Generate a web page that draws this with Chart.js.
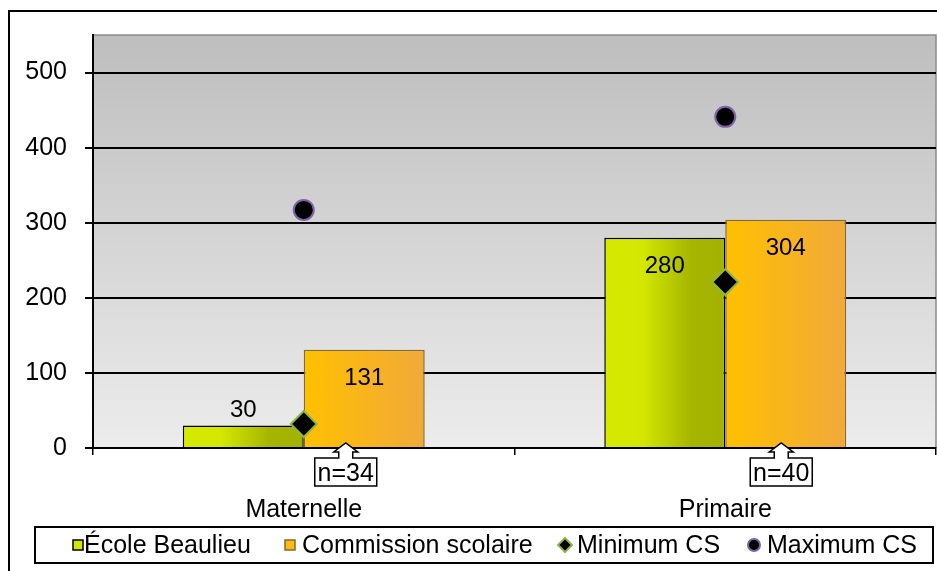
<!DOCTYPE html>
<html><head><meta charset="utf-8">
<script src="https://cdn.jsdelivr.net/npm/chart.js@4.4.1/dist/chart.umd.min.js"></script>
<style>html,body{margin:0;padding:0;background:#fff}</style>
</head><body>
<canvas id="c" width="937" height="571"></canvas>
<script>
// ---- data ----
const categories = ['Maternelle', 'Primaire'];
const ecoleBeaulieu = [30, 280];
const commissionScolaire = [131, 304];
const minimumCS = [32, 221];
const maximumCS = [317, 441];
const sampleSizes = ['n=34', 'n=40'];
const seriesLabels = ['École Beaulieu', 'Commission scolaire', 'Minimum CS', 'Maximum CS'];
const yMax = 550;
const yStep = 100;

// ---- style / layout ----
const FONT = "'Liberation Sans', Arial, sans-serif";
const CAT_PCT = 0.574;
const calloutOffsets = [42, 56];

Chart.defaults.font.family = FONT;
Chart.defaults.color = '#000';

function gradFill(stops, leftSide) {
  return (ctx) => {
    const chart = ctx.chart;
    if (!chart.chartArea || !chart.scales.x) return stops[0][1];
    const xs = chart.scales.x;
    const c = xs.getPixelForValue(ctx.dataIndex);
    const w = xs.width / categories.length * CAT_PCT / 2;
    const l = leftSide ? c - w : c;
    const g = chart.ctx.createLinearGradient(l, 0, l + w, 0);
    stops.forEach(s => g.addColorStop(s[0], s[1]));
    return g;
  };
}
const ecoleStops = [[0, '#d6ea00'], [0.32, '#d3e700'], [0.72, '#a5b500'], [1, '#a2b200']];
const csStops = [[0, '#ffc000'], [1, '#f1a93b']];

const bgPlugin = {
  id: 'bg',
  beforeDraw(chart) {
    const { ctx, chartArea: a } = chart;
    ctx.save();
    ctx.fillStyle = '#fff';
    ctx.fillRect(0, 0, chart.width, chart.height);
    ctx.strokeStyle = '#000'; ctx.lineWidth = 2;
    ctx.beginPath();
    ctx.moveTo(9, chart.height + 2); ctx.lineTo(9, 11); ctx.lineTo(chart.width + 2, 11);
    ctx.stroke();
    const g = ctx.createLinearGradient(0, a.top, 0, a.bottom);
    g.addColorStop(0, '#bebebe');
    g.addColorStop(1, '#ececec');
    ctx.fillStyle = g;
    ctx.fillRect(a.left, a.top, a.right - a.left, a.bottom - a.top);
    ctx.strokeStyle = '#8a8a8a'; ctx.lineWidth = 1.5;
    ctx.beginPath();
    ctx.moveTo(a.left, a.top); ctx.lineTo(a.right, a.top); ctx.lineTo(a.right, a.bottom);
    ctx.stroke();
    ctx.restore();
  }
};

const labelPlugin = {
  id: 'barLabels',
  afterDatasetsDraw(chart) {
    const ctx = chart.ctx;
    ctx.save();
    ctx.font = '24px ' + FONT;
    ctx.fillStyle = '#000';
    ctx.textAlign = 'center';
    ctx.textBaseline = 'middle';
    chart.data.datasets.forEach((ds, di) => {
      if (ds.type !== 'bar') return;
      const meta = chart.getDatasetMeta(di);
      meta.data.forEach((el, i) => {
        const h = el.base - el.y;
        const y = h > 50 ? el.y + 29 : el.y - 15;
        ctx.fillText(String(ds.data[i]), el.x, y);
      });
    });
    ctx.restore();
  }
};

const calloutPlugin = {
  id: 'callouts',
  afterDraw(chart) {
    const ctx = chart.ctx;
    const xs = chart.scales.x;
    const yb = chart.chartArea.bottom;
    ctx.save();
    sampleSizes.forEach((txt, i) => {
      const cx = xs.getPixelForValue(i) + calloutOffsets[i];
      const tip = yb - 5, headY = yb + 4, boxTop = yb + 10, boxBot = yb + 38;
      const bw = 62;
      ctx.beginPath();
      ctx.moveTo(cx - bw / 2, boxTop);
      ctx.lineTo(cx - 7, boxTop);
      ctx.lineTo(cx - 7, headY);
      ctx.lineTo(cx - 12, headY);
      ctx.lineTo(cx, tip);
      ctx.lineTo(cx + 12, headY);
      ctx.lineTo(cx + 7, headY);
      ctx.lineTo(cx + 7, boxTop);
      ctx.lineTo(cx + bw / 2, boxTop);
      ctx.lineTo(cx + bw / 2, boxBot);
      ctx.lineTo(cx - bw / 2, boxBot);
      ctx.closePath();
      ctx.fillStyle = '#fff';
      ctx.fill();
      ctx.strokeStyle = '#000'; ctx.lineWidth = 1.5;
      ctx.stroke();
      ctx.font = '25px ' + FONT;
      ctx.fillStyle = '#000';
      ctx.textAlign = 'center';
      ctx.textBaseline = 'middle';
      ctx.fillText(txt, cx, (boxTop + boxBot) / 2 + 2);
    });
    ctx.restore();
  }
};

const legendPlugin = {
  id: 'customLegend',
  afterDraw(chart) {
    const ctx = chart.ctx;
    const L = 35, T = 527, R = 933, B = 563, cy = (T + B) / 2;
    ctx.save();
    ctx.fillStyle = '#fff';
    ctx.fillRect(L, T, R - L, B - T);
    ctx.strokeStyle = '#000'; ctx.lineWidth = 2;
    ctx.strokeRect(L, T, R - L, B - T);
    const markerX = [73, 285, 565, 754];
    const textX = [84, 302, 577, 767];
    const maxW = [190, 240, 145, 150];
    ctx.font = '25px ' + FONT;
    ctx.textBaseline = 'middle';
    ctx.textAlign = 'left';
    seriesLabels.forEach((lab, i) => {
      const mx = markerX[i];
      ctx.lineWidth = 1.5;
      if (i === 0 || i === 1) {
        ctx.fillStyle = i === 0 ? '#d2e600' : '#fbb91a';
        ctx.strokeStyle = i === 0 ? '#000' : '#8a6a20';
        ctx.fillRect(mx, cy - 5, 10, 10);
        ctx.strokeRect(mx, cy - 5, 10, 10);
      } else if (i === 2) {
        ctx.beginPath();
        ctx.moveTo(mx, cy - 7); ctx.lineTo(mx + 7, cy); ctx.lineTo(mx, cy + 7); ctx.lineTo(mx - 7, cy);
        ctx.closePath();
        ctx.fillStyle = '#000'; ctx.fill();
        ctx.strokeStyle = '#8db54a'; ctx.lineWidth = 2; ctx.stroke();
      } else {
        ctx.beginPath();
        ctx.arc(mx, cy, 6, 0, Math.PI * 2);
        ctx.fillStyle = '#000'; ctx.fill();
        ctx.strokeStyle = '#7f62a8'; ctx.lineWidth = 2; ctx.stroke();
      }
      ctx.fillStyle = '#000';
      ctx.fillText(lab, textX[i], cy + 1, maxW[i]);
    });
    ctx.restore();
  }
};

new Chart(document.getElementById('c'), {
  data: {
    labels: categories,
    datasets: [
      {
        type: 'line', label: seriesLabels[2], data: minimumCS, showLine: false, order: 0,
        pointStyle: 'rectRot', pointRadius: 13, pointBackgroundColor: '#000',
        pointBorderColor: '#8db54a', pointBorderWidth: 2
      },
      {
        type: 'line', label: seriesLabels[3], data: maximumCS, showLine: false, order: 0,
        pointStyle: 'circle', pointRadius: 10, pointBackgroundColor: '#000',
        pointBorderColor: '#7f62a8', pointBorderWidth: 2
      },
      {
        type: 'bar', label: seriesLabels[0], data: ecoleBeaulieu, order: 1,
        backgroundColor: gradFill(ecoleStops, true), borderColor: '#000', borderWidth: 1.5,
        barPercentage: 1, categoryPercentage: CAT_PCT
      },
      {
        type: 'bar', label: seriesLabels[1], data: commissionScolaire, order: 1,
        backgroundColor: gradFill(csStops, false), borderColor: '#8a6a20', borderWidth: 1.5,
        barPercentage: 1, categoryPercentage: CAT_PCT
      }
    ]
  },
  options: {
    responsive: false,
    animation: false,
    devicePixelRatio: 1,
    layout: { autoPadding: false, padding: { left: 10, top: 35, right: 1, bottom: 44 } },
    plugins: { legend: { display: false }, tooltip: { enabled: false } },
    scales: {
      x: {
        offset: true,
        afterFit(s) { s.height = 79; s.paddingLeft = 0; s.paddingRight = 0; },
        grid: { drawOnChartArea: false, drawTicks: true, tickLength: 7, color: '#000', lineWidth: 1.5, offset: true },
        border: { display: true, color: '#000', width: 2 },
        ticks: { font: { size: 25, family: FONT }, color: '#000', padding: 40 }
      },
      y: {
        min: 0, max: yMax,
        afterFit(s) { s.width = 83; },
        grid: { color: '#000', lineWidth: 2, tickLength: 8, drawTicks: true },
        border: { display: true, color: '#000', width: 2 },
        ticks: { stepSize: yStep, includeBounds: false, font: { size: 25, family: FONT }, color: '#000', padding: 18 }
      }
    }
  },
  plugins: [bgPlugin, labelPlugin, calloutPlugin, legendPlugin]
});
</script>
</body></html>
